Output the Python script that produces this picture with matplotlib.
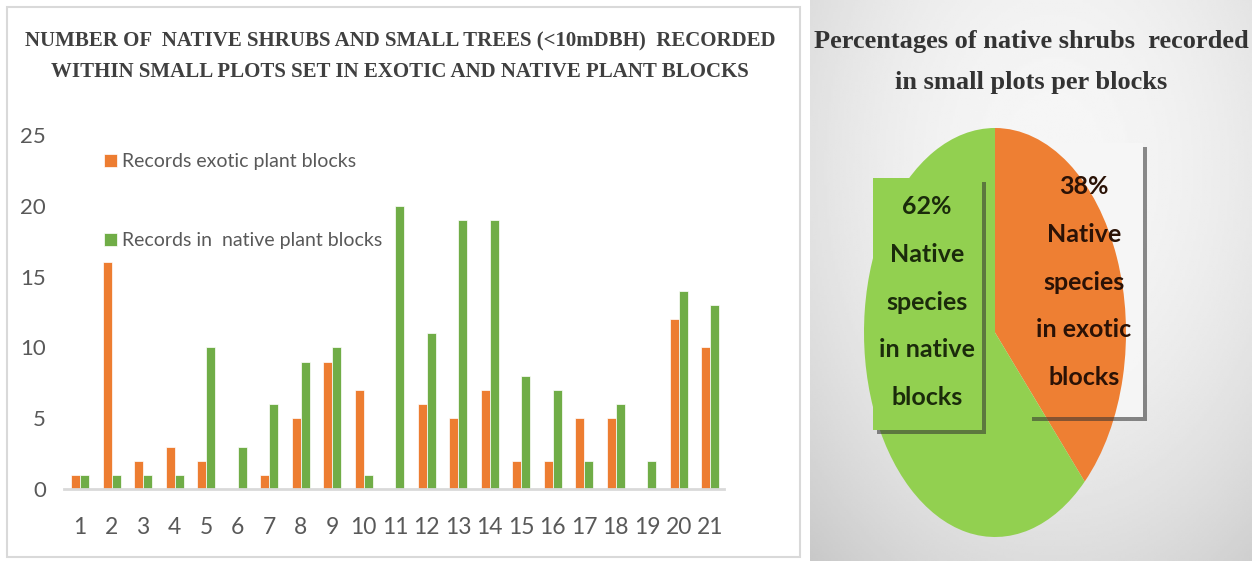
import numpy as np
import matplotlib
matplotlib.use('Agg')
import matplotlib.pyplot as plt
import matplotlib.patches
from matplotlib import font_manager

# ---- data ----
blocks = list(range(1, 22))
exotic = [1, 16, 2, 3, 2, 0, 1, 5, 9, 7, 0, 6, 5, 7, 2, 2, 5, 5, 0, 12, 10]
native = [1, 1, 1, 1, 10, 3, 6, 9, 10, 1, 20, 11, 19, 19, 8, 7, 2, 6, 2, 14, 13]
series_labels = ['Records exotic plant blocks', 'Records in  native plant blocks']

pie_values = [38, 62]
pie_labels = ['38%\nNative\nspecies\nin exotic\nblocks',
              '62%\nNative\nspecies\nin native\nblocks']

title_left = ('NUMBER OF  NATIVE SHRUBS AND SMALL TREES (<10mDBH)  RECORDED\n'
              'WITHIN SMALL PLOTS SET IN EXOTIC AND NATIVE PLANT BLOCKS')
title_right = 'Percentages of native shrubs  recorded\nin small plots per blocks'

ORANGE = '#ED7D31'
GREEN = '#70AD47'
PIE_ORANGE = '#EE7F33'
PIE_GREEN = '#92D050'

# narrow Calibri-like sans if there is one
names = {f.name for f in font_manager.fontManager.ttflist}
SANS = 'Liberation Sans Narrow' if 'Liberation Sans Narrow' in names else 'Lato'
SERIF = 'Liberation Serif'

W, H = 1252, 561
fig = plt.figure(figsize=(W / 100, H / 100), dpi=100)
fig.patch.set_facecolor('white')


def fx(px):
    return px / W


def fy(py):
    return 1 - py / H


def rect_px(x0, y0, x1, y1, **kw):
    # rectangle given in pixel coords (y down)
    r = matplotlib.patches.Rectangle((fx(x0), fy(y1)), fx(x1) - fx(x0), fy(y0) - fy(y1),
                                     transform=fig.transFigure, **kw)
    fig.patches.append(r)
    return r


# --- left panel frame ---
rect_px(7, 7, 800, 557, fill=False, edgecolor='#d9d9d9', linewidth=1.5)

fig.text(fx(400), fy(57), title_left, ha='center', va='center', family=SERIF,
         weight='bold', fontsize=15, color='#404040', linespacing=1.7)

# --- bar chart ---
ax = fig.add_axes([fx(64), fy(489), fx(724) - fx(64), fy(135) - fy(489)])
x = np.array(blocks)
bw = 0.286
b1 = ax.bar(x - bw / 2, exotic, width=bw, color=ORANGE, edgecolor='white', linewidth=0.5,
            label=series_labels[0])
b2 = ax.bar(x + bw / 2, native, width=bw, color=GREEN, edgecolor='white', linewidth=0.5,
            label=series_labels[1])
ax.set_xlim(0.49, 21.44)
ax.set_ylim(0, 25)
ax.set_yticks(range(0, 26, 5))
ax.set_xticks(blocks)
for s in ['top', 'right', 'left']:
    ax.spines[s].set_visible(False)
ax.spines['bottom'].set_color('#d9d9d9')
ax.spines['bottom'].set_linewidth(2)
ax.tick_params(axis='y', length=0, pad=13, labelsize=16, labelcolor='#595959')
ax.tick_params(axis='x', length=0, pad=20, labelsize=16.5, labelcolor='#595959')
for lab in ax.get_xticklabels() + ax.get_yticklabels():
    lab.set_family(SANS)

leg = ax.legend(handles=[b1, b2], loc='upper left', bbox_to_anchor=(fx(104), fy(153)),
                bbox_transform=fig.transFigure, frameon=False, borderpad=0,
                borderaxespad=0, labelspacing=3.2, handlelength=0.65, handleheight=0.65,
                handletextpad=0.3, prop={'family': SANS, 'size': 14})
for t in leg.get_texts():
    t.set_color('#595959')

# --- right panel: soft gray gradient background ---
bg = fig.add_axes([fx(810), 0, 1 - fx(810), 1])
bg.set_zorder(-2)
gx, gy = np.meshgrid(np.linspace(0, 1, 200), np.linspace(0, 1, 250))
d = np.sqrt(((gx - 0.55) / 0.7) ** 2 + ((gy - 0.3) / 0.8) ** 2)
shade = 0.965 - 0.13 * np.clip(d, 0, 1.2) ** 2
bg.imshow(shade, cmap='gray', vmin=0, vmax=1, aspect='auto', extent=(0, 1, 1, 0))
bg.set_axis_off()

fig.text(fx(1031), fy(62), title_right, ha='center', va='center', family=SERIF,
         weight='bold', fontsize=19, color='#333333', linespacing=2.0)

# label boxes (drawn under the pie), shadows on top
boxes = [(873, 178, 982, 430, PIE_GREEN, 1.0, 2),
         (1028, 143, 1143, 417, '#f7f7f7', 0.9, -1)]
for (x0, y0, x1, y1, fc, a, z) in boxes:
    rect_px(x0, y0, x1, y1, facecolor=fc, alpha=a, edgecolor='none', zorder=z)
    rect_px(x1, y0 + 4, x1 + 4, y1 + 4, facecolor='#303030', alpha=0.55,
            edgecolor='none', zorder=5)
    rect_px(x0 + 4, y1, x1, y1 + 4, facecolor='#303030', alpha=0.55,
            edgecolor='none', zorder=5)

# --- pie ---
pax = fig.add_axes([fx(864), fy(537), fx(1126) - fx(864), fy(128) - fy(537)])
pax.set_zorder(1)
pax.pie(pie_values, colors=[PIE_ORANGE, PIE_GREEN], startangle=90, counterclock=False,
        wedgeprops=dict(linewidth=0))
pax.set_aspect('auto')
pax.set_xlim(-1, 1)
pax.set_ylim(-1, 1)
pax.set_axis_off()

fig.text(fx(927), fy(302), pie_labels[1], ha='center', va='center', family=SANS,
         weight='bold', fontsize=18, color='#1b2b0b', linespacing=2.3, zorder=6)
fig.text(fx(1084), fy(282), pie_labels[0], ha='center', va='center', family=SANS,
         weight='bold', fontsize=18, color='#2a1206', linespacing=2.3, zorder=6)

fig.savefig('out.png', dpi=100)
